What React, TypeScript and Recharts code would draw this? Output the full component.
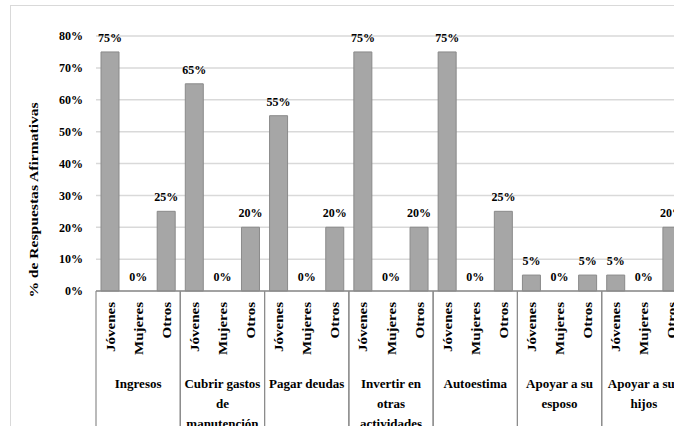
import { ComposedChart, Bar, Line, XAxis, YAxis, CartesianGrid, LabelList } from 'recharts'

const groups = [
  'Ingresos',
  'Cubrir gastos\nde\nmanutención',
  'Pagar deudas',
  'Invertir en\notras\nactividades',
  'Autoestima',
  'Apoyar a su\nesposo',
  'Apoyar a sus\nhijos',
]
const subgroups = ['Jóvenes', 'Mujeres', 'Otros']
const jovenes = [75, 65, 55, 75, 75, 5, 5]
const mujeres = [0, 0, 0, 0, 0, 0, 0]
const otros = [25, 20, 20, 20, 25, 5, 20]
const yTicks = [0, 10, 20, 30, 40, 50, 60, 70, 80]

const series = [jovenes, mujeres, otros]
const rows = groups.flatMap((g, gi) =>
  subgroups.map((s, si) => ({ key: `${gi}-${si}`, group: g, sub: s, gi, si, value: series[si][gi] }))
)

const FONT = "'Liberation Serif', 'Times New Roman', serif"
const CHART_W = 720
const CHART_H = 470
const MARGIN = { top: 36, right: 34, bottom: 29, left: 0 }
const Y_W = 96
const SLOT = (CHART_W - MARGIN.left - MARGIN.right - Y_W) / rows.length

function CatTick(props: any) {
  const { x, y, payload } = props
  const row = rows[payload.index]
  if (!row) return null
  const lines = row.group.split('\n')
  return (
    <g>
      <text
        transform={`translate(${x + 4.5},${y + 11}) rotate(-90) scale(1.25,1)`}
        textAnchor="end"
        fontFamily={FONT}
        fontWeight="bold"
        fontSize={12}
        fill="#000"
      >
        {row.sub}
      </text>
      {row.si === 0 && (
        <line x1={x - SLOT / 2} x2={x - SLOT / 2} y1={y} y2={y + 200} stroke="#8c8c8c" strokeWidth={1.2} />
      )}
      {row.si === 2 && (
        <line x1={x + SLOT / 2} x2={x + SLOT / 2} y1={y} y2={y + 200} stroke="#8c8c8c" strokeWidth={1.2} />
      )}
      {row.si === 1 &&
        lines.map((l: string, i: number) => (
          <text
            key={i}
            x={x}
            y={y + 97 + i * 20}
            textAnchor="middle"
            fontFamily={FONT}
            fontWeight="bold"
            fontSize={13}
            fill="#000"
          >
            {l}
          </text>
        ))}
    </g>
  )
}

export default function App() {
  return (
    <div style={{ position: 'absolute', left: 0, top: 0, width: 674, height: 426, overflow: 'hidden', background: '#fff' }}>
      <div
        style={{
          position: 'absolute', left: 10, top: 5, width: 700, height: 480,
          border: '1.5px solid #d9d9d9', boxSizing: 'border-box',
        }}
      />
      <div style={{ position: 'absolute', left: 0, top: 0 }}>
        <ComposedChart width={CHART_W} height={CHART_H} data={rows} margin={MARGIN} barCategoryGap={0}>
          <CartesianGrid vertical={false} stroke="#d9d9d9" strokeWidth={1.5} />
          <XAxis
            dataKey="key"
            interval={0}
            tickSize={0}
            tickMargin={0}
            height={150}
            tickLine={false}
            axisLine={{ stroke: '#8c8c8c', strokeWidth: 1.5 }}
            tick={<CatTick />}
          />
          <YAxis
            domain={[0, 80]}
            ticks={yTicks}
            width={Y_W}
            tickSize={0}
            tickMargin={13}
            axisLine={false}
            tickLine={false}
            tickFormatter={(v) => `${v}%`}
            tick={{ fill: '#000', fontFamily: FONT, fontWeight: 'bold', fontSize: 12 }}
            label={{
              content: () => (
                <text
                  transform="translate(38,200) rotate(-90) scale(1.2,1)"
                  textAnchor="middle"
                  fontFamily={FONT}
                  fontWeight="bold"
                  fontSize={13}
                  fill="#000"
                >
                  % de Respuestas Afirmativas
                </text>
              ),
            }}
          />
          <Bar dataKey="value" barSize={18} fill="#a6a6a6" stroke="#8a8a8a" strokeWidth={1} isAnimationActive={false} />
          <Line dataKey="value" stroke="none" dot={false} activeDot={false} isAnimationActive={false}>
            <LabelList
              dataKey="value"
              position="top"
              offset={10}
              formatter={(v: any) => `${v}%`}
              fill="#000"
              fontFamily={FONT}
              fontWeight="bold"
              fontSize={12}
            />
          </Line>
        </ComposedChart>
      </div>
    </div>
  )
}
